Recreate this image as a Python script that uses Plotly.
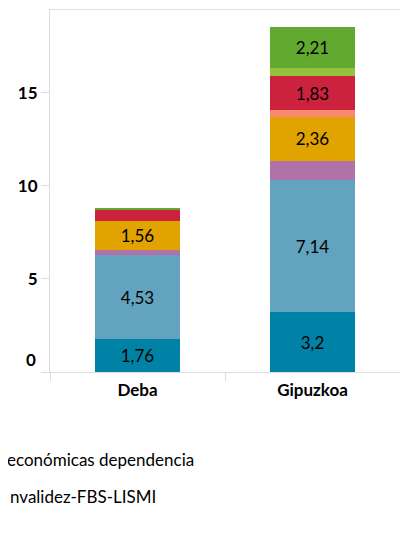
import plotly.graph_objects as go

categories = ["Deba", "Gipuzkoa"]

series_names = [
    "Serie 1", "Serie 2", "Serie 3", "Serie 4",
    "Serie 5", "Serie 6", "Serie 7", "Serie 8",
]
series_colors = [
    "#0082A6", "#62A3C0", "#B072A8", "#E0A300",
    "#F98A70", "#CC223E", "#95C13D", "#62A92F",
]
deba_values = [1.76, 4.53, 0.27, 1.56, 0.0, 0.60, 0.0, 0.10]
gipuzkoa_values = [3.20, 7.14, 1.02, 2.36, 0.34, 1.83, 0.43, 2.21]

y_tick_values = [0, 5, 10, 15]
y_tick_labels = ["", "5", "10", "15"]

legend_labels = ["económicas dependencia", "nvalidez-FBS-LISMI"]

LABEL_MIN = 1.5
FONT = "Lato, 'Open Sans', sans-serif"
FS = 17


def fmt(v):
    return f"{v:g}".replace(".", ",")


fig = go.Figure()
for i, name in enumerate(series_names):
    vals = [deba_values[i], gipuzkoa_values[i]]
    texts = [fmt(v) if v >= LABEL_MIN else "" for v in vals]
    fig.add_trace(go.Bar(
        x=categories, y=vals, name=name,
        marker=dict(color=series_colors[i], line=dict(width=0)),
        text=texts, textposition="inside", insidetextanchor="middle",
        textangle=0, constraintext="none",
        textfont=dict(family=FONT, size=FS, color="#000000"),
        showlegend=False,
    ))

annotations = [
    dict(text="0", xref="paper", yref="y", x=0, y=0, xanchor="right",
         yanchor="middle", xshift=-12, yshift=13, showarrow=False,
         font=dict(family=FONT, size=FS, color="#000000", weight="bold")),
    dict(text=legend_labels[0], xref="paper", yref="paper", x=0.417, y=-0.243,
         xanchor="right", yanchor="middle", showarrow=False,
         font=dict(family=FONT, size=FS, color="#000000")),
    dict(text=legend_labels[1], xref="paper", yref="paper", x=-0.12, y=-0.345,
         xanchor="left", yanchor="middle", showarrow=False,
         font=dict(family=FONT, size=FS, color="#000000")),
]

fig.update_layout(
    barmode="stack",
    bargap=0.51,
    width=408, height=543,
    margin=dict(l=42, r=16, t=2, b=179, autoexpand=False),
    paper_bgcolor="#ffffff", plot_bgcolor="#ffffff",
    font=dict(family=FONT, size=FS, color="#000000"),
    annotations=annotations,
    uniformtext=dict(mode=False),
)
fig.update_xaxes(
    showline=True, linecolor="#dddddd", linewidth=1, mirror=True,
    ticks="outside", ticklen=8, tickcolor="#dddddd", tickson="boundaries",
    showgrid=False, ticklabelstandoff=3,
    tickfont=dict(family=FONT, size=FS, color="#000000", weight="bold"),
)
fig.update_yaxes(
    range=[0, 19.46],
    tickvals=y_tick_values, ticktext=y_tick_labels,
    showline=True, linecolor="#dddddd", linewidth=1, mirror=True,
    ticks="outside", ticklen=8, tickcolor="#dddddd",
    showgrid=False, zeroline=False,
    tickfont=dict(family=FONT, size=FS, color="#000000", weight="bold"),
)

fig.write_html("out.html")
